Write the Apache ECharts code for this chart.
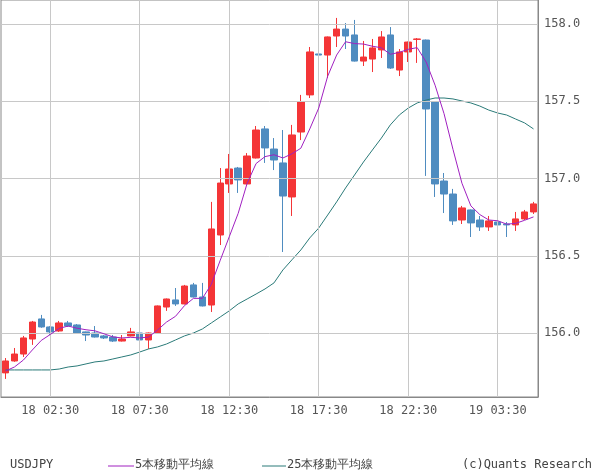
<!DOCTYPE html>
<html><head><meta charset="utf-8">
<script src="https://cdn.jsdelivr.net/npm/echarts@6/dist/echarts.min.js"></script>
<style>html,body{margin:0;padding:0;background:#fff}#c{width:600px;height:475px}</style>
</head><body><div id="c"></div>
<script>
// [open, close, low, high]
const ohlc = [
[155.743,155.820,155.704,155.839],[155.820,155.865,155.815,155.904],[155.865,155.969,155.846,155.982],[155.962,156.072,155.924,156.079],
[156.092,156.040,156.035,156.118],[156.040,156.008,155.988,156.045],[156.014,156.066,156.008,156.079],[156.066,156.046,156.040,156.079],
[156.053,156.001,155.995,156.059],[156.008,155.988,155.949,156.010],[156.001,155.975,155.972,156.046],[155.982,155.969,155.962,155.988],
[155.975,155.949,155.943,155.988],[155.949,155.962,155.946,155.988],[155.982,156.008,155.979,156.034],[156.001,155.956,155.949,156.034],
[155.956,156.001,155.898,156.004],[156.001,156.176,155.998,156.179],[156.169,156.221,156.144,156.224],[156.215,156.189,156.176,156.292],
[156.189,156.305,156.186,156.312],[156.312,156.234,156.231,156.325],[156.234,156.176,156.173,156.325],[156.182,156.674,156.137,156.849],
[156.635,156.971,156.570,157.068],[156.965,157.062,156.907,157.159],[157.068,156.991,156.907,157.075],[156.965,157.146,156.962,157.165],
[157.133,157.314,157.130,157.340],[157.321,157.198,157.101,157.340],[157.191,157.120,157.055,157.262],[157.101,156.887,156.525,157.314],
[156.881,157.282,156.758,157.347],[157.301,157.495,157.249,157.541],[157.541,157.819,157.521,157.851],[157.806,157.799,157.735,157.903],
[157.799,157.916,157.650,157.919],[157.922,157.967,157.851,158.039],[157.967,157.922,157.838,158.006],[157.929,157.760,157.757,158.026],
[157.760,157.786,157.728,157.890],[157.773,157.845,157.689,157.903],[157.832,157.916,157.780,157.954],[157.929,157.715,157.709,157.980],
[157.702,157.819,157.663,157.838],[157.819,157.883,157.754,157.886],[157.900,157.903,157.748,157.909],[157.896,157.450,157.017,157.899],
[157.495,156.965,156.881,157.498],[156.984,156.900,156.777,157.036],[156.900,156.726,156.700,156.933],[156.732,156.810,156.706,156.823],
[156.797,156.713,156.622,156.800],[156.732,156.687,156.661,156.758],[156.687,156.726,156.661,156.758],[156.719,156.700,156.674,156.803],
[156.706,156.700,156.622,156.719],[156.700,156.739,156.661,156.784],[156.739,156.784,156.732,156.797],[156.784,156.836,156.771,156.849]
];
const ma5Head = [155.755,155.781,155.826,155.891];
const ma25 = [155.762,155.762,155.762,155.762,155.762,155.762,155.768,155.781,155.788,155.801,155.814,155.820,155.833,155.846,155.859,155.878,
155.898,155.911,155.930,155.956,155.982,156.001,156.027,156.066,156.105,156.144,156.189,156.221,156.253,156.286,156.325,156.409,156.474,
156.538,156.616,156.680,156.764,156.849,156.939,157.023,157.107,157.185,157.262,157.347,157.411,157.456,157.489,157.508,157.521,157.521,
157.515,157.502,157.489,157.469,157.443,157.424,157.411,157.385,157.360,157.321];
const yTicks = [156.0,156.5,157.0,157.5,158.0];
const xTickIdx = [5,15,25,35,45,55];

const cats = [];
for (let i=0;i<ohlc.length;i++){const m=i*30;const d=18+Math.floor(m/1440);const hm=m%1440;
 cats.push(d+' '+String(Math.floor(hm/60)).padStart(2,'0')+':'+String(hm%60).padStart(2,'0'));}
const closes = ohlc.map(r=>r[1]);
const ma5 = closes.map((c,i)=> i<4 ? ma5Head[i] : +( (closes[i]+closes[i-1]+closes[i-2]+closes[i-3]+closes[i-4])/5 ).toFixed(3));

const font = 'DejaVu Sans Mono';
const chart = echarts.init(document.getElementById('c'));
chart.setOption({
 animation:false,
 grid:{left:1,right:62,top:0,bottom:78,show:true,borderColor:'#888',borderWidth:1},
 xAxis:{type:'category',data:cats,boundaryGap:true,
  axisLine:{lineStyle:{color:'#888'}},axisTick:{show:false},
  axisLabel:{interval:(i)=>xTickIdx.indexOf(i)>=0,color:'#555',fontFamily:font,fontSize:12,margin:8},
  splitLine:{show:false}},
 yAxis:{type:'value',position:'right',min:155.587,max:158.155,
  axisLine:{show:true,lineStyle:{color:'#888'}},axisTick:{show:false},splitLine:{show:false},
  axisLabel:{customValues:yTicks,formatter:v=>v.toFixed(1),color:'#555',fontFamily:font,fontSize:12,margin:6}},
 series:[
  {type:'candlestick',data:ohlc.map(r=>[r[0],r[1],r[2],r[3]]),barWidth:7,
   itemStyle:{color:'#f43537',color0:'#4f8cc0',borderColor:'#f43537',borderColor0:'#4f8cc0',borderWidth:1},
   markLine:{silent:true,symbol:'none',label:{show:false},lineStyle:{color:'#c8c8c8',type:'solid',width:1},
    data:yTicks.map(v=>({yAxis:v})).concat(xTickIdx.map(i=>({xAxis:cats[i]})))},z:3},
  {type:'line',data:ma25,symbol:'none',lineStyle:{color:'#2a7a78',width:1},z:4},
  {type:'line',data:ma5,symbol:'none',lineStyle:{color:'#a020c0',width:1},z:5}
 ],
 graphic:[
  {type:'text',left:10,top:459,style:{text:'USDJPY',font:'12px '+font,fill:'#444'}},
  {type:'line',shape:{x1:108,y1:466,x2:134,y2:466},style:{stroke:'#a020c0',lineWidth:1}},
  {type:'text',left:135,top:459,style:{text:'5本移動平均線',font:'12px '+font,fill:'#444'}},
  {type:'line',shape:{x1:262,y1:466,x2:286,y2:466},style:{stroke:'#2a7a78',lineWidth:1}},
  {type:'text',left:287,top:459,style:{text:'25本移動平均線',font:'12px '+font,fill:'#444'}},
  {type:'text',right:8,top:459,style:{text:'(c)Quants Research',font:'12px '+font,fill:'#444'}}
 ]
});
</script></body></html>
